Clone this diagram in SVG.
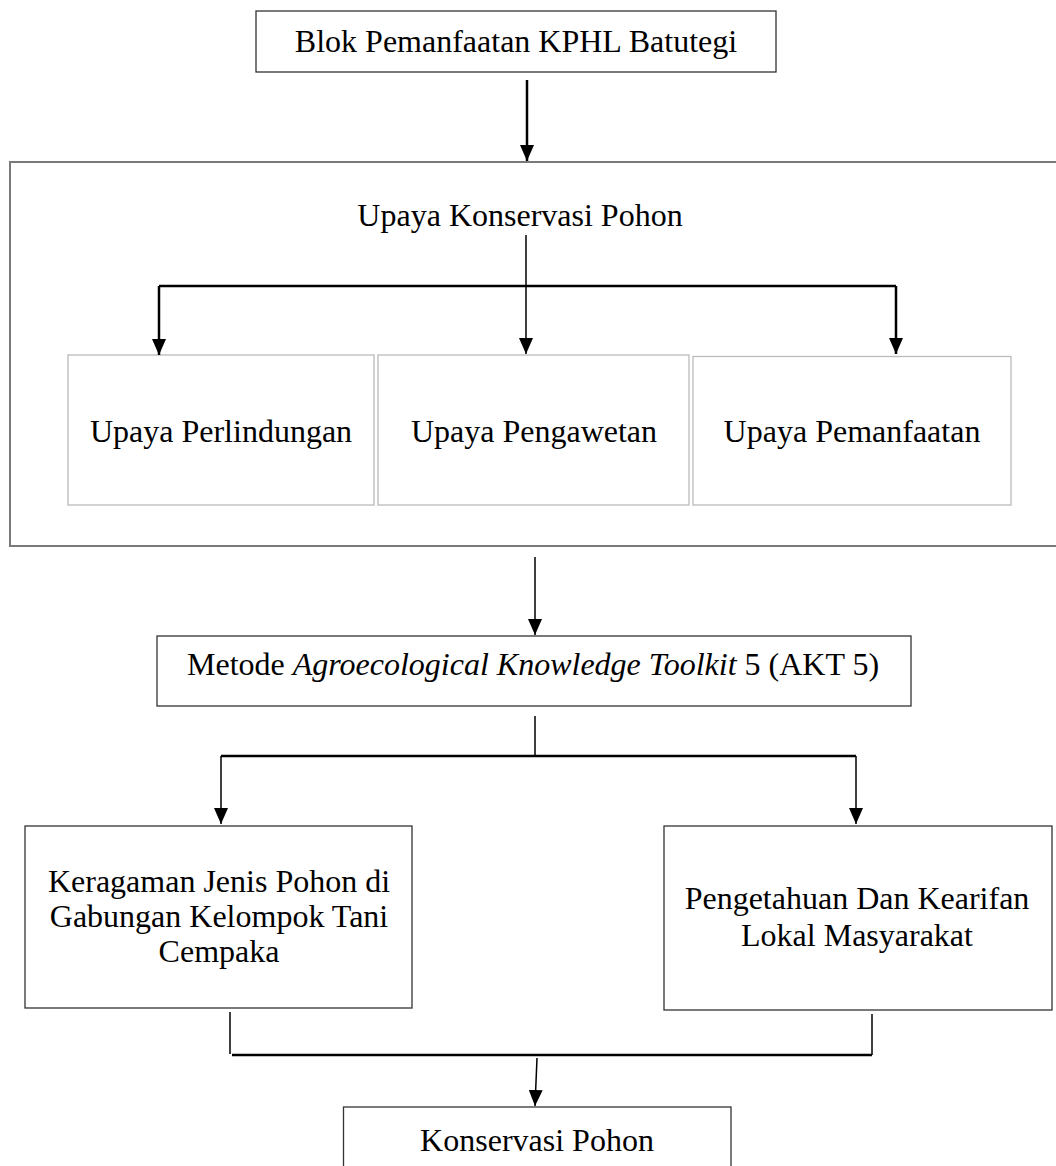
<svg xmlns="http://www.w3.org/2000/svg" width="1056" height="1166" viewBox="0 0 1056 1166">
<style>
text{font-family:"Liberation Serif","Times New Roman",serif;font-size:32px;fill:#000;text-anchor:middle}
.box{fill:#fff;stroke:#333;stroke-width:1.3}
.sub{fill:#fff;stroke:#bbb;stroke-width:1.3}
.outer{fill:#fff;stroke:#7a7a7a;stroke-width:2}
.ln{fill:none;stroke:#000;stroke-width:2.5}
.thin{fill:none;stroke:#000;stroke-width:1.5}
.ar{marker-end:url(#arr)}
</style>
<defs>
<marker id="arr" viewBox="0 0 16 14" refX="16" refY="7" markerWidth="16" markerHeight="14" markerUnits="userSpaceOnUse" orient="auto">
<path d="M0,0 L16,7 L0,14 z" fill="#000"/>
</marker>
</defs>
<g id="n-blok">
<rect class="box" x="256" y="11" width="520" height="61"/>
<text x="516" y="52">Blok Pemanfaatan KPHL Batutegi</text>
</g>
<g id="n-upaya">
<rect class="outer" x="10" y="162" width="1050" height="384"/>
<text x="520" y="226">Upaya Konservasi Pohon</text>
</g>
<g id="n-perlindungan">
<rect class="sub" x="68" y="355" width="306" height="150"/>
<text x="221" y="442">Upaya Perlindungan</text>
</g>
<g id="n-pengawetan">
<rect class="sub" x="378" y="355" width="311" height="150"/>
<text x="534" y="442">Upaya Pengawetan</text>
</g>
<g id="n-pemanfaatan">
<rect class="sub" x="693" y="356.5" width="318" height="148.5"/>
<text x="852" y="442">Upaya Pemanfaatan</text>
</g>
<g id="n-metode">
<rect class="box" x="157" y="636" width="754" height="70"/>
<text x="533" y="675">Metode <tspan font-style="italic">Agroecological Knowledge Toolkit</tspan> 5 (AKT 5)</text>
</g>
<g id="n-keragaman">
<rect class="box" x="25" y="826" width="387" height="182"/>
<text x="219" y="892">Keragaman Jenis Pohon di</text>
<text x="219" y="927">Gabungan Kelompok Tani</text>
<text x="219" y="962">Cempaka</text>
</g>
<g id="n-pengetahuan">
<rect class="box" x="664" y="826" width="388" height="184"/>
<text x="857" y="909">Pengetahuan Dan Kearifan</text>
<text x="857" y="946">Lokal Masyarakat</text>
</g>
<g id="n-konservasi">
<rect class="box" x="343.5" y="1107" width="387.5" height="70"/>
<text x="537" y="1151">Konservasi Pohon</text>
</g>
<g id="connectors">
<line class="ln ar" x1="527" y1="80" x2="527" y2="161"/>
<line class="thin ar" x1="526" y1="235" x2="526" y2="354"/>
<polyline class="ln" points="159,286 896,286"/>
<line class="ln ar" x1="159" y1="286" x2="159" y2="355"/>
<line class="ln ar" x1="896" y1="286" x2="896" y2="354"/>
<line class="thin ar" x1="535" y1="557" x2="535" y2="635"/>
<line class="thin" x1="535" y1="716" x2="535" y2="757"/>
<polyline class="ln" points="221,756 856,756"/>
<line class="thin ar" x1="221" y1="756" x2="221" y2="824"/>
<line class="thin ar" x1="856" y1="756" x2="856" y2="824"/>
<polyline class="thin" points="230,1012 230,1054"/>
<polyline class="thin" points="872,1014 872,1055"/>
<line class="ln" x1="232" y1="1055" x2="872" y2="1055"/>
<line class="thin ar" x1="537" y1="1058" x2="535" y2="1106"/>
</g>
</svg>
